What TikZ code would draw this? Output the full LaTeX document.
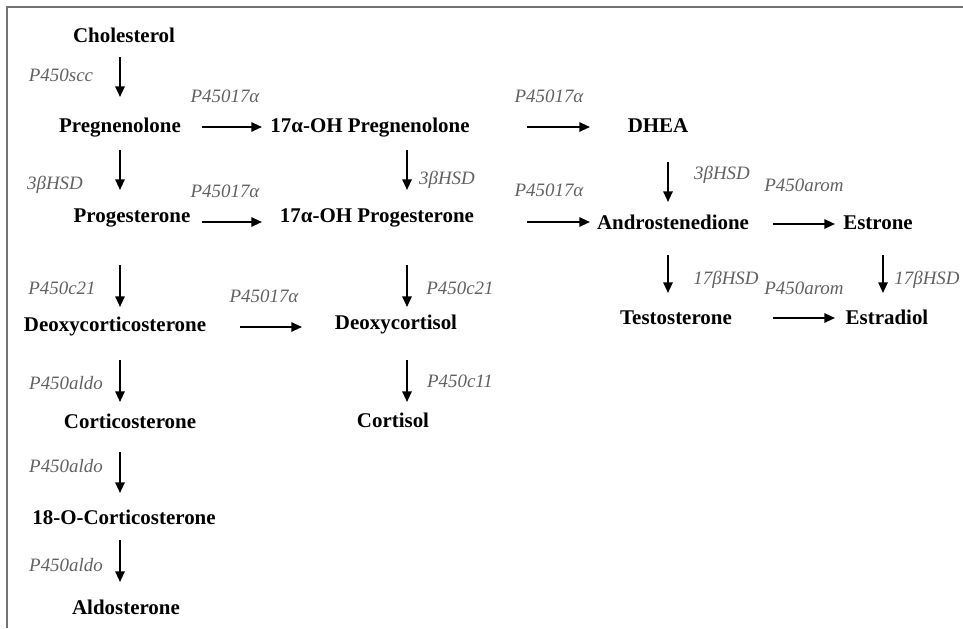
\documentclass[tikz,border=0pt]{standalone}
\usepackage{fontspec}
\setmainfont{Liberation Serif}
\usetikzlibrary{arrows.meta}
\colorlet{enzymeText}{black!62}
\colorlet{frameLine}{black!55}
\tikzset{
steroidstyle/.style={inner sep=0pt, text height=0.66em, text depth=0pt, font=\fontsize{15.7}{18}\selectfont\bfseries},
enzymestyle/.style={inner sep=0pt, text height=0.66em, text depth=0pt, text=enzymeText, font=\fontsize{14.2}{16}\selectfont\itshape},
arrowstyle/.style={line width=1.4pt, -{Triangle[length=8pt, width=7pt]}}
}
\newcommand{\steroid}[4]{
  \node [steroidstyle] (#1) at (#2, #3) {#4};
}
\newcommand{\conv}[8]{
  \coordinate (#1s) at (#2, #3);
  \coordinate (#1e) at (#4, #5);
  \draw [arrowstyle] (#1s) -- (#1e);
  \node [enzymestyle] (#1lab) at (#6, #7) {#8};
}
\begin{document}
\begin{tikzpicture}[x=0.75pt, y=-0.75pt]
\useasboundingbox (0, 0) rectangle (963, 628);
\draw [frameLine, line width=1pt] (963, 7) -- (7, 7) -- (7, 628);

\steroid {chol} {124} {38} {Cholesterol}
\steroid {preg} {120} {128} {Pregnenolone}
\steroid {ohpreg} {370} {128} {17α-OH Pregnenolone}
\steroid {dhea} {658} {128} {DHEA}
\steroid {prog} {132} {218} {Progesterone}
\steroid {ohprog} {377} {218} {17α-OH Progesterone}
\steroid {andro} {673} {225} {Androstenedione}
\steroid {estrone} {878} {225} {Estrone}
\steroid {doc} {115} {327} {Deoxycorticosterone}
\steroid {deoxycort} {396} {325} {Deoxycortisol}
\steroid {testo} {676} {320} {Testosterone}
\steroid {estradiol} {887} {320} {Estradiol}
\steroid {cortico} {130} {424} {Corticosterone}
\steroid {cortisol} {393} {423} {Cortisol}
\steroid {ocort} {124} {520} {18-O-Corticosterone}
\steroid {aldo} {126} {610} {Aldosterone}

\conv {a1} {120} {57} {120} {97} {61} {77} {P450scc}
\conv {a2} {202} {127} {262} {127} {225} {98} {P45017α}
\conv {a3} {527} {127} {590} {127} {549} {98} {P45017α}
\conv {a4} {120} {150} {120} {190} {55} {185} {3βHSD}
\conv {a5} {407} {150} {407} {190} {447} {180} {3βHSD}
\conv {a6} {668} {162} {668} {202} {722} {175} {3βHSD}
\conv {a7} {202} {222} {262} {222} {225} {193} {P45017α}
\conv {a8} {527} {222} {590} {222} {549} {192} {P45017α}
\conv {a9} {773} {224} {835} {224} {804} {187} {P450arom}
\conv {a10} {120} {265} {120} {307} {62} {290} {P450c21}
\conv {a11} {407} {265} {407} {307} {460} {290} {P450c21}
\conv {a12} {668} {255} {668} {293} {726} {280} {17βHSD}
\conv {a13} {883} {255} {883} {293} {927} {280} {17βHSD}
\conv {a14} {240} {327} {302} {327} {264} {298} {P45017α}
\conv {a15} {773} {318} {835} {318} {804} {290} {P450arom}
\conv {a16} {120} {360} {120} {402} {66} {385} {P450aldo}
\conv {a17} {407} {360} {407} {402} {460} {383} {P450c11}
\conv {a18} {120} {452} {120} {493} {66} {468} {P450aldo}
\conv {a19} {120} {540} {120} {582} {66} {567} {P450aldo}
\end{tikzpicture}
\end{document}
